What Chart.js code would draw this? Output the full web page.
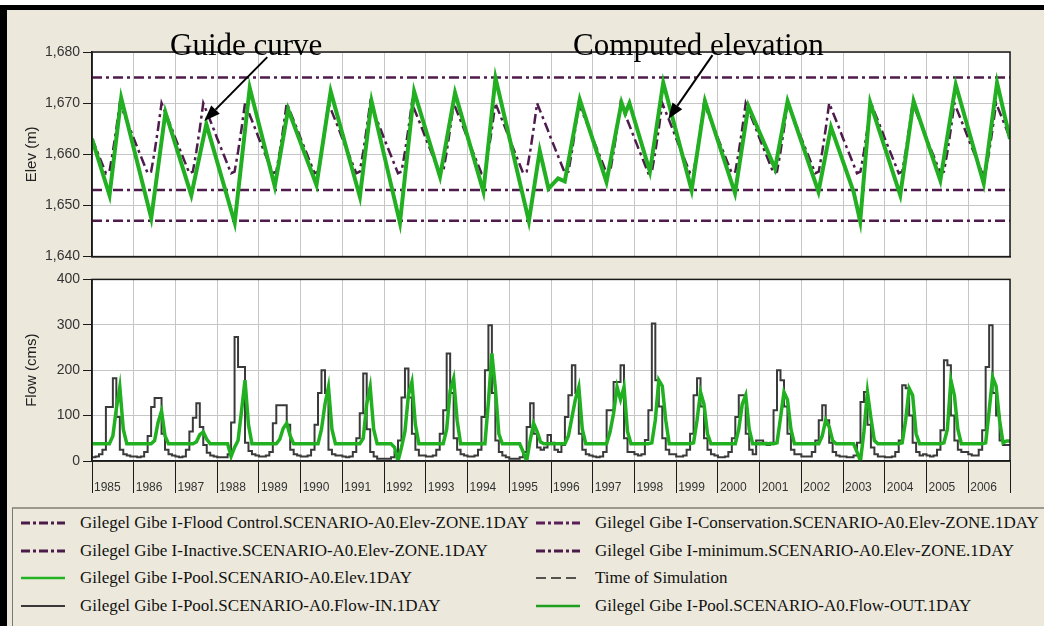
<!DOCTYPE html>
<html><head><meta charset="utf-8">
<script src="https://cdn.jsdelivr.net/npm/chart.js@4.4.1/dist/chart.umd.min.js"></script>
<style>
html,body{margin:0;padding:0;}
body{width:1044px;height:626px;overflow:hidden;position:relative;background:#ECE9DC;font-family:'Liberation Sans',Arial,sans-serif;}
#whiteTop{position:absolute;left:0;top:0;width:1044px;height:5px;background:#fff;}
#blackTop{position:absolute;left:0;top:5px;width:1044px;height:5px;background:#000;}
#blackLeft{position:absolute;left:0;top:5px;width:7px;height:621px;background:#000;}
#c1{position:absolute;left:0;top:0;}
#c2{position:absolute;left:0;top:268px;}
#legend{position:absolute;left:12px;top:507px;width:1032px;height:119px;border-top:2px solid #9c998e;border-left:1px solid #777;}
.item{position:absolute;height:20px;white-space:nowrap;line-height:20px;}
.item svg{position:absolute;left:0;top:4px;}
.item span{position:absolute;left:60px;top:0;font-family:"Liberation Serif","Times New Roman",Times,serif;font-size:17px;color:#111;}
</style>
</head><body>
<div id="whiteTop"></div>
<canvas id="c1" width="1044" height="268"></canvas>
<canvas id="c2" width="1044" height="232"></canvas>
<div id="blackTop"></div>
<div id="blackLeft"></div>
<div id="legend"></div>
<script>
// ---------------- DATA ----------------
const years = [1985,1986,1987,1988,1989,1990,1991,1992,1993,1994,1995,1996,1997,1998,1999,2000,2001,2002,2003,2004,2005,2006];
const xStart = 1985, xEnd = 2007;
const elevTicks = [1640, 1650, 1660, 1670, 1680];
const flowTicks = [0, 100, 200, 300, 400];

// Zone elevations (m)
const zoneYears = [1985, 2007];
const floodControlElev = [1675, 1675];
const inactiveElev = [1653, 1653];
const minimumElev = [1647, 1647];
// Conservation zone top (guide curve), Jan..Dec
const guideMonthly = [1663.1, 1661.4, 1659.7, 1658.0, 1656.3, 1656.6, 1660.5, 1665.0, 1670.0, 1668.3, 1666.6, 1664.9];

// Computed pool elevation (turning points)
const elevTimes = [1985.00,1985.42,1985.70,1986.42,1986.76,1987.38,1987.74,1988.42,1988.78,1989.38,1989.70,1990.38,1990.72,1991.42,1991.70,1992.38,1992.72,1993.34,1993.70,1994.38,1994.67,1995.47,1995.73,1995.94,1996.17,1996.33,1996.69,1997.33,1997.69,1997.78,1997.88,1998.37,1998.69,1999.37,1999.69,2000.41,2000.73,2001.37,2001.67,2002.41,2002.71,2003.25,2003.41,2003.65,2004.37,2004.69,2005.33,2005.70,2006.37,2006.69,2007.00];
const elevValues = [1663.0,1652.0,1671.0,1647.5,1668.2,1652.0,1665.9,1646.6,1673.0,1653.7,1668.8,1654.0,1672.3,1651.7,1670.4,1646.6,1672.3,1655.6,1672.0,1652.7,1674.9,1646.9,1660.7,1653.3,1655.3,1654.7,1670.7,1654.6,1670.1,1668.0,1670.0,1656.6,1674.0,1653.0,1670.4,1652.4,1669.4,1657.2,1670.4,1652.7,1665.3,1652.7,1646.9,1670.1,1652.0,1670.4,1654.9,1673.6,1654.3,1674.0,1663.0];

// Monthly inflow (cms), Jan..Dec per year
const flowInValues = [
  8,8,10,15,25,119,119,182,97,25,15,12,       // 1985
  10,10,8,10,20,55,119,139,139,60,25,15,      // 1986
  12,10,8,10,25,65,95,127,75,35,18,12,        // 1987
  10,8,8,8,15,85,273,207,207,40,22,15,        // 1988
  12,10,10,12,20,83,123,123,123,80,25,15,     // 1989
  12,10,10,12,25,80,150,200,150,25,15,12,     // 1990
  12,10,8,10,20,50,105,193,70,20,10,5,        // 1991
  5,5,5,8,20,45,140,204,140,60,25,12,         // 1992
  12,10,10,12,25,60,112,237,150,50,25,15,     // 1993
  12,10,10,12,25,97,200,299,150,45,20,12,     // 1994
  8,5,5,5,8,20,75,127,60,30,25,30,            // 1995
  57,40,25,20,35,97,145,211,150,60,25,15,     // 1996
  12,10,8,10,20,112,112,174,174,211,50,20,    // 1997
  20,15,12,15,46,112,303,178,120,50,25,15,    // 1998
  15,10,10,12,25,60,145,182,120,50,25,15,     // 1999
  12,8,8,10,20,50,97,145,145,60,25,15,        // 2000
  45,45,40,35,40,112,200,178,120,60,25,15,    // 2001
  15,10,10,10,20,45,90,123,90,40,20,12,       // 2002
  10,10,8,8,12,40,130,152,80,30,15,10,        // 2003
  10,8,8,10,20,45,167,160,100,40,20,12,       // 2004
  15,12,10,12,25,68,222,211,100,45,25,20,     // 2005
  20,15,12,12,25,68,207,299,150,100,45,35     // 2006
];
// Monthly outflow (cms), Jan..Dec per year
const flowOutValues = [
  38,38,38,38,38,38,55,115,163,70,38,38,      // 1985
  38,38,38,38,38,38,45,85,110,55,38,38,       // 1986
  38,38,38,38,38,38,42,58,64,48,38,38,        // 1987
  38,38,38,38,10,30,45,110,178,80,38,38,      // 1988
  38,38,38,38,38,38,48,72,83,55,38,38,        // 1989
  38,38,38,38,38,38,70,125,163,70,38,38,      // 1990
  38,38,38,38,38,38,50,125,163,70,38,38,      // 1991
  38,38,38,30,0,30,65,145,174,80,38,38,       // 1992
  38,38,38,38,38,38,70,155,182,90,38,38,      // 1993
  38,38,38,38,38,38,130,237,160,60,38,38,     // 1994
  38,38,38,38,20,0,45,83,65,42,38,38,         // 1995
  38,38,38,38,38,55,95,135,163,70,38,38,      // 1996
  38,38,38,38,38,65,105,163,135,163,65,38,    // 1997
  38,38,38,38,38,40,90,178,165,90,38,38,      // 1998
  38,38,38,38,38,40,90,152,125,60,38,38,      // 1999
  38,38,38,38,38,38,70,125,145,70,38,38,      // 2000
  38,38,38,38,38,40,95,152,135,70,38,38,      // 2001
  38,38,38,38,38,38,55,90,75,45,38,38,        // 2002
  38,38,38,38,20,0,65,152,95,45,38,38,        // 2003
  38,38,38,38,38,40,90,160,145,60,38,38,      // 2004
  38,38,38,38,38,40,70,178,145,70,38,38,      // 2005
  38,38,38,38,38,40,110,185,165,90,40,44      // 2006
];

const legendItems = [
  {text:'Gilegel Gibe I-Flood Control.SCENARIO-A0.Elev-ZONE.1DAY', col:0, row:0, color:'#4a1a48', dash:'9,3,3,3', w:3},
  {text:'Gilegel Gibe I-Conservation.SCENARIO-A0.Elev-ZONE.1DAY', col:1, row:0, color:'#5a1f58', dash:'9,3,3,3', w:3},
  {text:'Gilegel Gibe I-Inactive.SCENARIO-A0.Elev-ZONE.1DAY', col:0, row:1, color:'#4a1a48', dash:'9,3,3,3', w:3},
  {text:'Gilegel Gibe I-minimum.SCENARIO-A0.Elev-ZONE.1DAY', col:1, row:1, color:'#4a1a48', dash:'9,3,3,3', w:3},
  {text:'Gilegel Gibe I-Pool.SCENARIO-A0.Elev.1DAY', col:0, row:2, color:'#22b322', dash:'', w:2.5},
  {text:'Time of Simulation', col:1, row:2, color:'#222', dash:'10,5', w:1.5},
  {text:'Gilegel Gibe I-Pool.SCENARIO-A0.Flow-IN.1DAY', col:0, row:3, color:'#383838', dash:'', w:2},
  {text:'Gilegel Gibe I-Pool.SCENARIO-A0.Flow-OUT.1DAY', col:1, row:3, color:'#1f9e1f', dash:'', w:2.5}
];

// ---------------- BUILD SERIES ----------------
const monthTimes = [];
years.forEach(y => { for (let m = 0; m < 12; m++) monthTimes.push(y + m / 12); });
const guidePts = monthTimes.map((t, i) => ({x: t, y: guideMonthly[i % 12]}));
guidePts.push({x: xEnd, y: guideMonthly[0]});
const elevPts = elevTimes.map((t, i) => ({x: t, y: elevValues[i]}));
const zonePts = arr => zoneYears.map((t, i) => ({x: t, y: arr[i]}));
const inPts = monthTimes.map((t, i) => ({x: t, y: flowInValues[i]}));
inPts.push({x: xEnd, y: flowInValues[flowInValues.length - 1]});
const outPts = monthTimes.map((t, i) => ({x: t, y: flowOutValues[i]}));
outPts.push({x: xEnd, y: flowOutValues[flowOutValues.length - 1]});

// ---------------- STYLE ----------------
Chart.defaults.font.family = "'Liberation Sans', Arial, sans-serif";
Chart.defaults.color = '#333';
Chart.defaults.animation = false;
const GRID = '#c6c6c6', AXIS = '#1a1a1a';
const DASHDOT = [10, 4, 3, 4];
const ZONE = '#4f1b4c';

const frame = {
  id: 'frame',
  beforeDraw(chart) {
    const a = chart.chartArea, c = chart.ctx;
    c.save(); c.fillStyle = '#fff'; c.fillRect(a.left, a.top, a.right - a.left, a.bottom - a.top); c.restore();
  },
  afterDraw(chart) {
    const a = chart.chartArea, c = chart.ctx;
    c.save(); c.strokeStyle = AXIS; c.lineWidth = 1.5;
    c.strokeRect(a.left, a.top, a.right - a.left, a.bottom - a.top); c.restore();
  }
};

const notes = [
  {text: 'Guide curve', tx: 1986.87, ty: 1679.4, fx: 1989.2, fy: 1679.0, ax: 1987.69, ay: 1666.5},
  {text: 'Computed elevation', tx: 1996.53, ty: 1679.4, fx: 1999.87, fy: 1679.4, ax: 1998.81, ay: 1666.9}
];
function arrow(c, x1, y1, x2, y2) {
  const ang = Math.atan2(y2 - y1, x2 - x1), L = 16, W = 6;
  const bx = x2 - L * Math.cos(ang), by = y2 - L * Math.sin(ang);
  c.beginPath(); c.moveTo(x1, y1); c.lineTo(bx, by); c.lineWidth = 2; c.stroke();
  c.beginPath(); c.moveTo(x2, y2);
  c.lineTo(bx + W * Math.sin(ang), by - W * Math.cos(ang));
  c.lineTo(bx - W * Math.sin(ang), by + W * Math.cos(ang));
  c.closePath(); c.fill();
}
const annot = {
  id: 'annot',
  afterDraw(chart) {
    const c = chart.ctx, sx = chart.scales.x, sy = chart.scales.y;
    c.save(); c.fillStyle = '#000'; c.strokeStyle = '#000';
    c.font = "31px 'Liberation Serif', 'Times New Roman', serif";
    c.textBaseline = 'alphabetic'; c.textAlign = 'left';
    notes.forEach(n => {
      c.fillText(n.text, sx.getPixelForValue(n.tx), sy.getPixelForValue(n.ty));
      arrow(c, sx.getPixelForValue(n.fx), sy.getPixelForValue(n.fy), sx.getPixelForValue(n.ax), sy.getPixelForValue(n.ay));
    });
    c.restore();
  }
};

function yAxis(min, max, ticks, title, fmt) {
  return {
    type: 'linear', min, max,
    afterBuildTicks: s => { s.ticks = ticks.map(v => ({value: v})); },
    afterFit: s => { s.width = 92; },
    grid: {color: GRID, tickColor: AXIS, tickLength: 9, lineWidth: 1},
    border: {color: AXIS, width: 1.5},
    ticks: {font: {size: 14}, color: '#333', padding: 3, callback: fmt},
    title: {display: true, text: title, font: {size: 15}, color: '#222', padding: {top: 23, bottom: 0}}
  };
}

new Chart(document.getElementById('c1'), {
  type: 'line',
  data: {datasets: [
    {label: 'Gilegel Gibe I-Pool.SCENARIO-A0.Elev.1DAY', data: elevPts, borderColor: '#22b022', borderWidth: 4, order: 0},
    {label: 'Gilegel Gibe I-Conservation.SCENARIO-A0.Elev-ZONE.1DAY', data: guidePts, borderColor: ZONE, borderWidth: 2.5, borderDash: DASHDOT, order: 1},
    {label: 'Gilegel Gibe I-Flood Control.SCENARIO-A0.Elev-ZONE.1DAY', data: zonePts(floodControlElev), borderColor: ZONE, borderWidth: 2.5, borderDash: DASHDOT, order: 2},
    {label: 'Gilegel Gibe I-Inactive.SCENARIO-A0.Elev-ZONE.1DAY', data: zonePts(inactiveElev), borderColor: ZONE, borderWidth: 2.5, borderDash: DASHDOT, order: 2},
    {label: 'Gilegel Gibe I-minimum.SCENARIO-A0.Elev-ZONE.1DAY', data: zonePts(minimumElev), borderColor: ZONE, borderWidth: 2.5, borderDash: DASHDOT, order: 2}
  ]},
  options: {
    responsive: false, animation: false,
    layout: {padding: {left: 0, right: 34, top: 52, bottom: 9}},
    elements: {point: {radius: 0}, line: {tension: 0}},
    plugins: {legend: {display: false}, tooltip: {enabled: false}},
    scales: {
      x: {type: 'linear', min: xStart, max: xEnd,
          ticks: {display: false, stepSize: 1},
          afterFit: s => { s.height = 0; },
          grid: {color: GRID, drawTicks: false}, border: {color: AXIS, width: 1.5}},
      y: yAxis(1640, 1680, elevTicks, 'Elev (m)', v => v.toLocaleString('en-US'))
    }
  },
  plugins: [frame, annot]
});

new Chart(document.getElementById('c2'), {
  type: 'line',
  data: {datasets: [
    {label: 'Gilegel Gibe I-Pool.SCENARIO-A0.Flow-OUT.1DAY', data: outPts, borderColor: '#20b020', borderWidth: 3.5, order: 0},
    {label: 'Gilegel Gibe I-Pool.SCENARIO-A0.Flow-IN.1DAY', data: inPts, borderColor: '#3a3a3a', borderWidth: 2, stepped: 'after', order: 1}
  ]},
  options: {
    responsive: false, animation: false,
    layout: {padding: {left: 0, right: 34, top: 11, bottom: 0}},
    elements: {point: {radius: 0}, line: {tension: 0}},
    plugins: {legend: {display: false}, tooltip: {enabled: false}},
    scales: {
      x: {type: 'linear', min: xStart, max: xEnd,
          afterBuildTicks: s => { s.ticks = years.concat([xEnd]).map(v => ({value: v})); },
          afterFit: s => { s.height = 39; },
          grid: {color: GRID, tickColor: AXIS, tickLength: 32, lineWidth: 1},
          border: {color: AXIS, width: 1.5},
          ticks: {autoSkip: false, maxRotation: 0, minRotation: 0, align: 'start', labelOffset: 2, padding: -13,
                  font: {size: 12}, color: '#333', callback: v => (v < xEnd ? String(v) : '')}},
      y: yAxis(0, 400, flowTicks, 'Flow (cms)', v => String(v))
    }
  },
  plugins: [frame]
});

// ---------------- LEGEND ----------------
const lg = document.getElementById('legend');
const colLeft = [7, 522], rowTop = [4, 32, 59, 87];
legendItems.forEach(it => {
  const d = document.createElement('div');
  d.className = 'item';
  d.style.left = colLeft[it.col] + 'px';
  d.style.top = rowTop[it.row] + 'px';
  d.innerHTML = '<svg width="46" height="12"><line x1="1" y1="6" x2="45" y2="6" stroke="' + it.color +
    '" stroke-width="' + it.w + '"' + (it.dash ? ' stroke-dasharray="' + it.dash + '"' : '') + '/></svg><span></span>';
  d.querySelector('span').textContent = it.text;
  lg.appendChild(d);
});
</script>
</body></html>
